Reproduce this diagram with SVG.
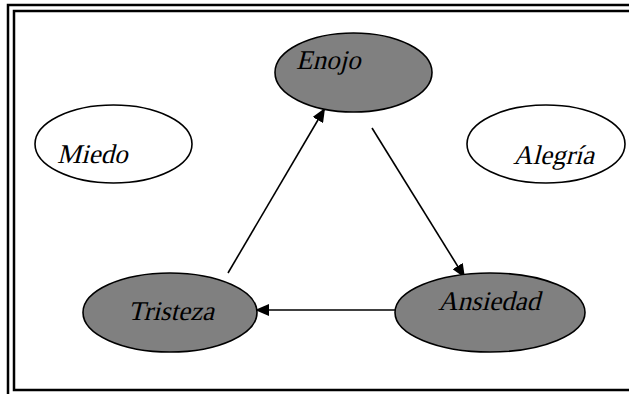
<svg xmlns="http://www.w3.org/2000/svg" width="629" height="394" viewBox="0 0 629 394">
  <style>
    .frame { fill: none; stroke: #000; stroke-width: 2.5; }
    .node { stroke: #000; stroke-width: 1.6; }
    .filled { fill: #808080; }
    .empty { fill: #fff; }
    .label { font-family: "Liberation Serif", serif; font-style: normal; font-size: 27px; fill: #000; }
    .edge { fill: none; stroke: #000; stroke-width: 1.6; }
  </style>
  <defs>
    <marker id="arrow" markerUnits="userSpaceOnUse" markerWidth="16" markerHeight="12" refX="14" refY="6" orient="auto">
      <path d="M0,0 L14,6 L0,12 Z" fill="#000"/>
    </marker>
  </defs>

  <rect width="629" height="394" fill="#fff"/>

  <!-- double page frame -->
  <g id="frame">
    <path class="frame" d="M 632 5 H 8 V 397"/>
    <path class="frame" d="M 632 11 H 14 V 390 H 632"/>
  </g>

  <g id="connectors">
    <line class="edge" x1="228" y1="273" x2="325" y2="108" marker-end="url(#arrow)"/>
    <line class="edge" x1="372" y1="128" x2="465" y2="278" marker-end="url(#arrow)"/>
    <line class="edge" x1="395" y1="310" x2="255" y2="310" marker-end="url(#arrow)"/>
  </g>

  <!-- labels are slanted by hand: skewX on the upright serif face -->
  <g id="enojo">
    <ellipse class="node filled" cx="353.5" cy="72.5" rx="78.5" ry="39.5"/>
    <text class="label" transform="translate(296 69) skewX(-14)">Enojo</text>
  </g>

  <g id="miedo">
    <ellipse class="node empty" cx="113.5" cy="144" rx="78.5" ry="39"/>
    <text class="label" transform="translate(57 163) skewX(-14)">Miedo</text>
  </g>

  <g id="alegria">
    <ellipse class="node empty" cx="546" cy="144" rx="79" ry="39"/>
    <text class="label" transform="translate(513 164) skewX(-14)">Alegría</text>
  </g>

  <g id="tristeza">
    <ellipse class="node filled" cx="170" cy="312.5" rx="87" ry="39.5"/>
    <text class="label" transform="translate(128 320) skewX(-14)">Tristeza</text>
  </g>

  <g id="ansiedad">
    <ellipse class="node filled" cx="490" cy="312.5" rx="95" ry="39.5"/>
    <text class="label" transform="translate(438 310) skewX(-14)">Ansiedad</text>
  </g>
</svg>
